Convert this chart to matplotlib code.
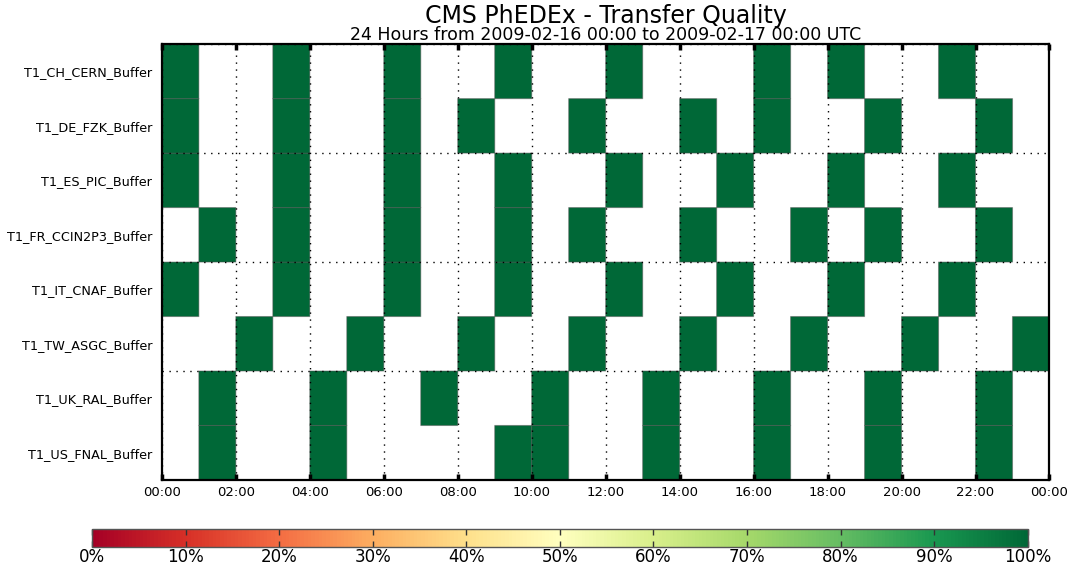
import numpy as np
import matplotlib
matplotlib.use("Agg")
import matplotlib.pyplot as plt
from matplotlib import colors, cm

sites = ["T1_CH_CERN_Buffer", "T1_DE_FZK_Buffer", "T1_ES_PIC_Buffer",
         "T1_FR_CCIN2P3_Buffer", "T1_IT_CNAF_Buffer", "T1_TW_ASGC_Buffer",
         "T1_UK_RAL_Buffer", "T1_US_FNAL_Buffer"]

# hours (0-23) that have transfers, per site; all at 100% quality
hours_ch = [0, 3, 6, 9, 12, 16, 18, 21]
hours_de = [0, 3, 6, 8, 11, 14, 16, 19, 22]
hours_es = [0, 3, 6, 9, 12, 15, 18, 21]
hours_fr = [1, 3, 6, 9, 11, 14, 17, 19, 22]
hours_it = [0, 3, 6, 9, 12, 15, 18, 21]
hours_tw = [2, 5, 8, 11, 14, 17, 20, 23]
hours_uk = [1, 4, 7, 10, 13, 16, 19, 22]
hours_us = [1, 4, 9, 10, 13, 16, 19, 22]
quality = 100.0

hour_labels = ["00:00", "02:00", "04:00", "06:00", "08:00", "10:00", "12:00",
               "14:00", "16:00", "18:00", "20:00", "22:00", "00:00"]
cbar_labels = ["0%", "10%", "20%", "30%", "40%", "50%", "60%", "70%",
               "80%", "90%", "100%"]

all_hours = [hours_ch, hours_de, hours_es, hours_fr, hours_it, hours_tw,
             hours_uk, hours_us]
nrows = len(sites)
grid = np.full((nrows, 24), np.nan)
for i, hrs in enumerate(all_hours):
    # row 0 at the bottom, so the first site goes on top
    grid[nrows - 1 - i, hrs] = quality
data = np.ma.masked_invalid(grid)

cmap = plt.get_cmap("RdYlGn")
norm = colors.Normalize(0, 100)

fig = plt.figure(figsize=(10.72, 5.66), dpi=100)
ax = fig.add_axes([0.151, 0.152, 0.828, 0.770])

ax.pcolor(np.arange(25), np.arange(nrows + 1), data, cmap=cmap, norm=norm,
          edgecolors=(0.3, 0.3, 0.3, 0.45), linewidth=0.8, zorder=2)

ax.set_xlim(0, 24)
ax.set_ylim(0, nrows)

ax.set_xticks(np.arange(0, 25, 2))
ax.set_xticklabels(hour_labels, fontsize=9.5)
ax.tick_params(axis="x", direction="in", length=4, width=2.5, top=True,
               bottom=True, pad=4, color="black")

ax.set_yticks(np.arange(0, nrows + 1, 2))
ax.set_yticklabels([])
ax.set_yticks(np.arange(nrows) + 0.5, minor=True)
ax.set_yticklabels(sites[::-1], minor=True, fontsize=9.2)
ax.tick_params(axis="y", which="both", length=0, pad=7)

ax.grid(True, which="major", color="black", linestyle=(0, (1, 4)),
        linewidth=1.0, zorder=3)
ax.set_axisbelow(False)
for s in ax.spines.values():
    s.set_linewidth(1.6)
    s.set_zorder(4)

fig.text(0.565, 0.972, "CMS PhEDEx - Transfer Quality", ha="center",
         va="center", fontsize=17)
fig.text(0.565, 0.938, "24 Hours from 2009-02-16 00:00 to 2009-02-17 00:00 UTC",
         ha="center", va="center", fontsize=12.5)

cax = fig.add_axes([0.0858, 0.0335, 0.873, 0.032])
cb = fig.colorbar(cm.ScalarMappable(norm=norm, cmap=cmap), cax=cax,
                  orientation="horizontal", ticks=np.arange(0, 101, 10))
cb.ax.set_xticklabels(cbar_labels, fontsize=12)
cb.ax.tick_params(direction="in", length=4, width=1, top=True, bottom=True,
                  color="#333333", pad=1)
cb.outline.set_edgecolor("#555555")
cb.outline.set_linewidth(1)

fig.savefig("out.png", dpi=100)
